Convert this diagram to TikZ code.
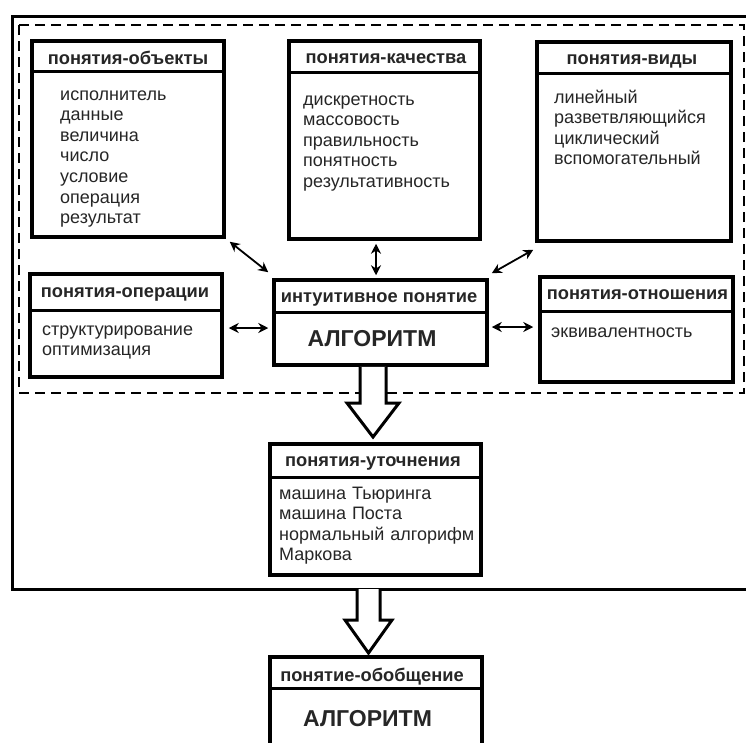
\documentclass[tikz,border=0pt]{standalone}
\usepackage{fontspec}
\setmainfont{Liberation Sans}
\usetikzlibrary{calc,arrows.meta}
\begin{document}
\begin{tikzpicture}[x=1pt,y=-1pt,
 box/.style={draw, line width=3.5pt, rectangle, inner sep=0pt, fill=white},
 sepline/.style={line width=3pt},
 hdr/.style={font=\fontsize{18.3}{21}\selectfont\bfseries, anchor=base, inner sep=0pt, text=black!85},
 body/.style={font=\fontsize{18}{20.6}\selectfont, anchor=base west, inner sep=0pt, align=left, text width=200pt, text=black!85},
 big/.style={font=\fontsize{23}{27}\selectfont\bfseries, anchor=base, inner sep=0pt, text=black!85},
 link/.style={line width=1.8pt, {Stealth[length=10pt,width=10pt]}-{Stealth[length=10pt,width=10pt]}},
 hollow/.style={draw, line width=3pt, fill=white, line join=miter}]
\useasboundingbox (0,0) rectangle (746,742);
\fill[white] (0,0) rectangle (746,742);

% outer frame and dashed frame
\draw[line width=3pt] (760,16) -- (12,16) -- (12,589) -- (760,589);
\draw[line width=2.8pt, dash pattern=on 10pt off 6pt] (19,25) rectangle (744,393);

% boxes
\node[box, minimum width=192pt, minimum height=196pt] (obj) at (128,139) {};
\draw[sepline] (obj.west |- 0,71) -- (obj.east |- 0,71);
\node[hdr] (objh) at (128,64.5) {понятия-объекты};
\node[body] (objb) at (60,100) {исполнитель\\данные\\величина\\число\\условие\\операция\\результат};

\node[box, minimum width=191pt, minimum height=198pt] (qual) at (384.5,140) {};
\draw[sepline] (qual.west |- 0,72) -- (qual.east |- 0,72);
\node[hdr] (qualh) at (386,63) {понятия-качества};
\node[body] (qualb) at (303,105) {дискретность\\массовость\\правильность\\понятность\\результативность};

\node[box, minimum width=194pt, minimum height=199pt] (vid) at (634,141.5) {};
\draw[sepline] (vid.west |- 0,73) -- (vid.east |- 0,73);
\node[hdr] (vidh) at (632,64.5) {понятия-виды};
\node[body] (vidb) at (554,103) {линейный\\разветвляющийся\\циклический\\вспомогательный};

\node[box, minimum width=192pt, minimum height=103pt] (oper) at (126,325.5) {};
\draw[sepline] (oper.west |- 0,310) -- (oper.east |- 0,310);
\node[hdr] (operh) at (125,297.5) {понятия-операции};
\node[body] (operb) at (42,335) {структурирование\\оптимизация};

\node[box, minimum width=213pt, minimum height=85pt] (cen) at (380.5,322.5) {};
\draw[sepline] (cen.west |- 0,312) -- (cen.east |- 0,312);
\node[hdr] (cenh) at (379,302.5) {интуитивное понятие};
\node[big] (cenb) at (372,346) {АЛГОРИТМ};

\node[box, minimum width=193pt, minimum height=105pt] (otn) at (636.5,329.5) {};
\draw[sepline] (otn.west |- 0,311) -- (otn.east |- 0,311);
\node[hdr] (otnh) at (637.5,299.5) {понятия-отношения};
\node[body] (otnb) at (551,337) {эквивалентность};

\node[box, minimum width=211pt, minimum height=131pt] (uto) at (375.5,509.5) {};
\draw[sepline] (uto.west |- 0,477) -- (uto.east |- 0,477);
\node[hdr] (utoh) at (373,466) {понятия-уточнения};
\node[body] (utob) at (279,499) {машина Тьюринга\\машина Поста\\нормальный алгорифм\\Маркова};

\node[box, minimum width=212pt, minimum height=103pt] (obo) at (376,708.5) {};
\draw[sepline] (obo.west |- 0,688) -- (obo.east |- 0,688);
\node[hdr] (oboh) at (372,681) {понятие-обобщение};
\node[big] (obob) at (367.5,726) {АЛГОРИТМ};

% connectors
\draw[link] ($(obj.south east)+(4,3)$) -- ($(cen.north west)+(-4,-6)$);
\draw[link] ($(qual.south)+(-8.5,3)$) -- ($(cen.north)+(-4.5,-3)$);
\draw[link] ($(vid.south west)+(-2,7)$) -- ($(cen.north east)+(3,-5)$);
\draw[link] ($(oper.east)+(5,2.5)$) -- ($(cen.west)+(-4,5.5)$);
\draw[link] ($(cen.east)+(3,4.5)$) -- ($(otn.west)+(-5,-2.5)$);

% hollow arrows
\draw[hollow] (cen.south -| 360,0) -- (360,403) -- (347,403) -- (373,437) -- (399,403) -- (386,403) -- (cen.south -| 386,0);
\draw[hollow] (357,589) -- (357,620) -- (345,620) -- (368.5,653) -- (392,620) -- (380,620) -- (380,589);
\end{tikzpicture}
\end{document}
